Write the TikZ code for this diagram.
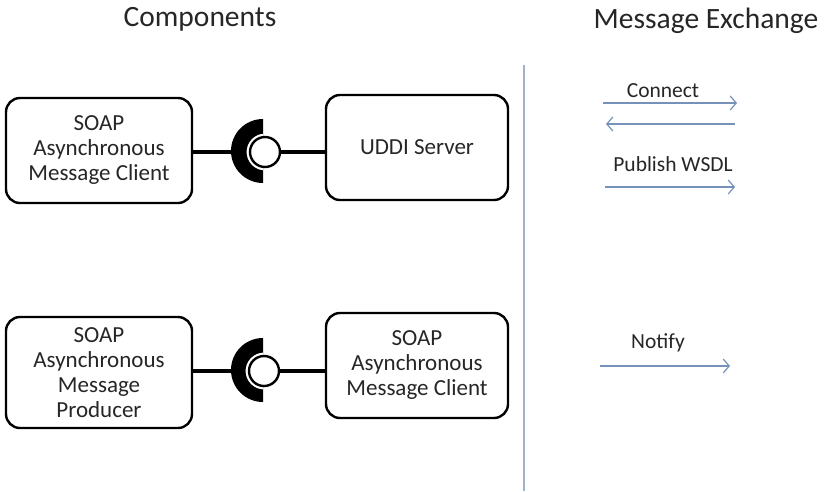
\documentclass[tikz,border=0pt]{standalone}
\usepackage{fontspec}
\setmainfont{Carlito}
\usetikzlibrary{arrows.meta}
\definecolor{flowblue}{RGB}{118,146,186}
\definecolor{divgray}{RGB}{160,178,200}
\definecolor{txtgray}{RGB}{38,38,38}
\tikzset{every picture/.style={line width=0.75pt}}
\tikzset{
  compbox/.style={draw=black, line width=2.4pt, rounded corners=14pt, align=center,
    inner sep=0pt, text=txtgray, font=\fontsize{23}{25}\selectfont},
  header/.style={text=txtgray, font=\fontsize{29.5}{32}\selectfont},
  msglabel/.style={text=txtgray, font=\fontsize{21.5}{24}\selectfont},
  link/.style={line width=3.6pt},
  ball/.style={circle, draw=black, fill=white, line width=2.4pt, minimum size=30pt, inner sep=0pt},
  flow/.style={draw=flowblue, line width=1.2pt, -{Straight Barb[length=6pt,width=14pt]}},
}
\begin{document}
\begin{tikzpicture}[x=1pt,y=1pt,yscale=-1,xscale=1]
\useasboundingbox (0,0) rectangle (837,491);

% Headers
\node[header] (comphead) at (200,19) {Components};
\node[header] (msghead) at (706,21) {Message Exchange};

% Divider
\draw[divgray, line width=1.2pt] (524,65) -- (524,491);

% Component boxes
\node[compbox, minimum width=186pt, minimum height=105pt] (clientA) at (99,150.5) {SOAP\\Asynchronous\\Message Client};
\node[compbox, minimum width=182pt, minimum height=105pt] (uddi) at (417,147.5) {UDDI Server};
\node[compbox, minimum width=186pt, minimum height=111pt] (producer) at (99,372.5) {SOAP\\Asynchronous\\Message\\Producer};
\node[compbox, minimum width=182pt, minimum height=105pt] (clientB) at (417,365.5) {SOAP\\Asynchronous\\Message Client};

% Sockets (y axis points down, so arcs start at the bottom)
\begin{scope}
\clip (263,183) arc (90:270:32) -- cycle;
\fill[black, even odd rule] (263,183) arc (90:270:32) -- cycle (265,152) circle (18.5);
\end{scope}
\begin{scope}
\clip (263,402) arc (90:270:32) -- cycle;
\fill[black, even odd rule] (263,402) arc (90:270:32) -- cycle (264,371) circle (18.5);
\end{scope}
\coordinate (sockA) at (232,152);
\coordinate (sockB) at (232,371);

% Balls
\node[ball] (ballA) at (265,152) {};
\node[ball] (ballB) at (264,371) {};

% Lollipop links
\draw[link] (clientA.east |- sockA) -- (sockA);
\draw[link] (ballA.east) -- (uddi.west |- ballA);
\draw[link] (producer.east |- sockB) -- (sockB);
\draw[link] (ballB.east) -- (clientB.west |- ballB);

% Message exchange
\node[msglabel] (connect) at (663,91) {Connect};
\coordinate (conA) at (603,103);
\coordinate (conB) at (737,103);
\coordinate (ackA) at (735,124);
\coordinate (ackB) at (606,124);
\draw[flow] (conA) -- (conB);
\draw[flow] (ackA) -- (ackB);

\node[msglabel] (publish) at (673,164) {Publish WSDL};
\coordinate (pubA) at (605,187);
\coordinate (pubB) at (735,187);
\draw[flow] (pubA) -- (pubB);

\node[msglabel] (notify) at (658,343) {Notify};
\coordinate (notA) at (600,366);
\coordinate (notB) at (730,366);
\draw[flow] (notA) -- (notB);

\end{tikzpicture}
\end{document}
